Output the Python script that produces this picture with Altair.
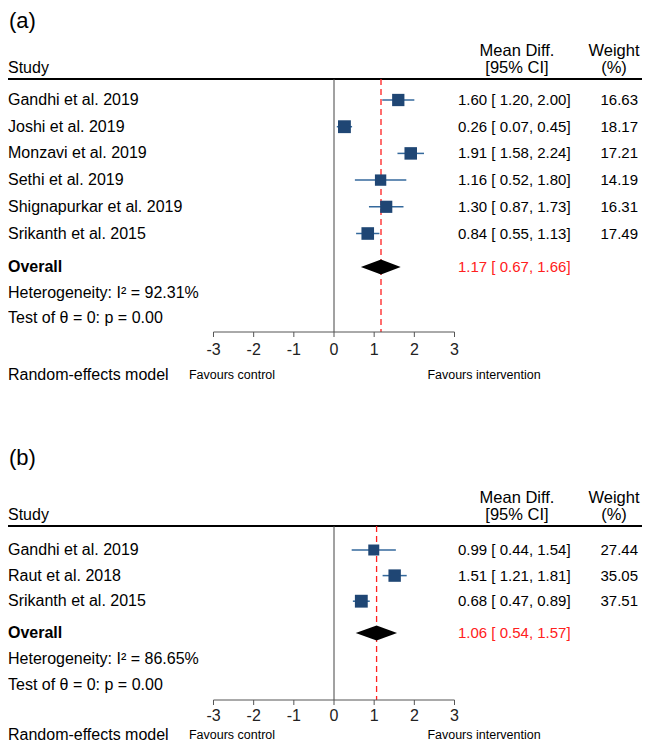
import altair as alt
import pandas as pd

# ---------------- data ----------------
a_studies = ["Gandhi et al. 2019", "Joshi et al. 2019", "Monzavi et al. 2019",
             "Sethi et al. 2019", "Shignapurkar et al. 2019", "Srikanth et al. 2015"]
a_est = [1.60, 0.26, 1.91, 1.16, 1.30, 0.84]
a_lo = [1.20, 0.07, 1.58, 0.52, 0.87, 0.55]
a_hi = [2.00, 0.45, 2.24, 1.80, 1.73, 1.13]
a_weight = [16.63, 18.17, 17.21, 14.19, 16.31, 17.49]
a_overall = [1.17, 0.67, 1.66]
a_i2 = "92.31%"
a_p = "0.00"

b_studies = ["Gandhi et al. 2019", "Raut et al. 2018", "Srikanth et al. 2015"]
b_est = [0.99, 1.51, 0.68]
b_lo = [0.44, 1.21, 0.47]
b_hi = [1.54, 1.81, 0.89]
b_weight = [27.44, 35.05, 37.51]
b_overall = [1.06, 0.54, 1.57]
b_i2 = "86.65%"
b_p = "0.00"

tick_values = [-3, -2, -1, 0, 1, 2, 3]

# ---------------- layout / style ----------------
W = 634
X_DOMAIN = [-326 / 40.17, (W - 326) / 40.17]
FONT = "Liberation Sans"
SQ_COLOR = "#1f4674"
CI_COLOR = "#34699c"
RED = "#ff2020"


def txt(df, x, align="left", size=16, color="black", weight="normal", yscale=None, baseline="middle",
        clip=True):
    return alt.Chart(df).mark_text(
        align=align, baseline=baseline, fontSize=size, font=FONT, color=color,
        fontWeight=weight, clip=clip
    ).encode(
        x=alt.value(x),
        y=alt.Y("y:Q", scale=yscale, axis=None),
        text="t:N",
    )


def panel(label, studies, est, lo, hi, weight, overall, i2, p, step, first_y, top, height, offs):
    r = {k: v / step for k, v in offs.items()}
    ymin = -(first_y - top) / step
    yscale = alt.Scale(domain=[ymin, ymin + height / step], reverse=True, nice=False, zero=False)
    xscale = alt.Scale(domain=X_DOMAIN, nice=False, zero=False)
    n = len(studies)

    df = pd.DataFrame({
        "y": list(range(n)),
        "study": studies,
        "est": est, "lo": lo, "hi": hi, "w": weight,
        "ci": [f"{e:.2f} [ {l:.2f}, {h:.2f}]" for e, l, h in zip(est, lo, hi)],
        "wt": [f"{w:.2f}" for w in weight],
    })

    layers = []
    # header line
    layers.append(alt.Chart(pd.DataFrame({"y": [r["hline"]]})).mark_rule(
        color="black", strokeWidth=2, clip=True).encode(
        x=alt.value(0), x2=alt.value(W), y=alt.Y("y:Q", scale=yscale, axis=None)))
    # vertical null line
    layers.append(alt.Chart(pd.DataFrame({"x": [0], "y": [r["hline"]], "y2": [r["axis"]]})).mark_rule(
        color="#444444", strokeWidth=1).encode(
        x=alt.X("x:Q", scale=xscale, axis=None), y=alt.Y("y:Q", scale=yscale, axis=None), y2="y2:Q"))
    # overall dashed line
    layers.append(alt.Chart(pd.DataFrame({"x": [overall[0]], "y": [r["hline"]], "y2": [r["axis"]]})).mark_rule(
        color=RED, strokeWidth=1.3, strokeDash=[6, 4]).encode(
        x=alt.X("x:Q", scale=xscale, axis=None), y=alt.Y("y:Q", scale=yscale, axis=None), y2="y2:Q"))
    # axis line
    layers.append(alt.Chart(pd.DataFrame({"x": [tick_values[0]], "x2": [tick_values[-1]], "y": [r["axis"]]})).mark_rule(
        color="#555555", strokeWidth=1).encode(
        x=alt.X("x:Q", scale=xscale, axis=None), x2="x2:Q", y=alt.Y("y:Q", scale=yscale, axis=None)))
    # ticks
    tdf = pd.DataFrame({"x": tick_values, "y": [r["axis"]] * 7, "y2": [r["axis"] + 5 / step] * 7,
                        "ty": [r["ticklab"]] * 7, "t": [str(v) for v in tick_values]})
    layers.append(alt.Chart(tdf).mark_rule(color="#555555", strokeWidth=1).encode(
        x=alt.X("x:Q", scale=xscale, axis=None), y=alt.Y("y:Q", scale=yscale, axis=None), y2="y2:Q"))
    layers.append(alt.Chart(tdf).mark_text(fontSize=16, font=FONT, baseline="middle", color="#222222").encode(
        x=alt.X("x:Q", scale=xscale, axis=None), y=alt.Y("ty:Q", scale=yscale, axis=None), text="t:N"))
    # CI lines
    layers.append(alt.Chart(df).mark_rule(color=CI_COLOR, strokeWidth=1.5).encode(
        x=alt.X("lo:Q", scale=xscale, axis=None), x2="hi:Q", y=alt.Y("y:Q", scale=yscale, axis=None)))
    # squares
    layers.append(alt.Chart(df).mark_square(color=SQ_COLOR, opacity=1).encode(
        x=alt.X("est:Q", scale=xscale, axis=None), y=alt.Y("y:Q", scale=yscale, axis=None),
        size=alt.Size("w:Q", scale=alt.Scale(domain=[0, max(weight)], range=[0, 165]), legend=None)))
    # diamond
    oy = r["overall"]
    h = 7.5 / step
    ddf = pd.DataFrame({"x": [overall[1], overall[0], overall[2]],
                        "y": [oy, oy - h, oy], "y2": [oy, oy + h, oy]})
    layers.append(alt.Chart(ddf).mark_area(color="black", orient="vertical").encode(
        x=alt.X("x:Q", scale=xscale, axis=None), y=alt.Y("y:Q", scale=yscale, axis=None), y2="y2:Q"))

    # texts
    layers.append(txt(pd.DataFrame({"y": [r["label"]], "t": [label]}), 1, size=22, yscale=yscale,
                      baseline="top", clip=False))
    layers.append(txt(pd.DataFrame({"y": [r["study"]], "t": ["Study"]}), 0, yscale=yscale))
    layers.append(txt(pd.DataFrame({"y": [r["md"], r["study"]], "t": ["Mean Diff.", "[95% CI]"]}), 509,
                      align="center", size=16.5, yscale=yscale))
    layers.append(txt(pd.DataFrame({"y": [r["md"], r["study"]], "t": ["Weight", "(%)"]}), 606,
                      align="center", size=16.5, yscale=yscale))
    layers.append(txt(df.assign(t=df["study"]), 0, yscale=yscale))
    layers.append(txt(df.assign(t=df["ci"]), 450, size=15, yscale=yscale))
    layers.append(txt(df.assign(t=df["wt"]), 630, align="right", size=15, yscale=yscale))
    layers.append(txt(pd.DataFrame({"y": [oy], "t": ["Overall"]}), 0, weight="bold", yscale=yscale))
    layers.append(txt(pd.DataFrame({"y": [oy], "t": [f"{overall[0]:.2f} [ {overall[1]:.2f}, {overall[2]:.2f}]"]}),
                      450, size=15, color=RED, yscale=yscale))
    layers.append(txt(pd.DataFrame({"y": [r["het"], r["test"]],
                                    "t": [f"Heterogeneity: I\u00b2 = {i2}", f"Test of \u03b8 = 0: p = {p}"]}),
                      0, yscale=yscale))
    layers.append(txt(pd.DataFrame({"y": [r["bottom"]], "t": ["Random-effects model"]}), 0, yscale=yscale))
    layers.append(txt(pd.DataFrame({"y": [r["bottom"]], "t": ["Favours control"]}), 224, align="center",
                      size=12.5, yscale=yscale))
    layers.append(txt(pd.DataFrame({"y": [r["bottom"]], "t": ["Favours intervention"]}), 476, align="center",
                      size=12.5, yscale=yscale))

    return alt.layer(*layers).properties(width=W, height=height)


offs_a = {"label": -89, "md": -49, "study": -32, "hline": -21, "overall": 167, "het": 193,
          "test": 218, "axis": 232, "ticklab": 250, "bottom": 275}
offs_b = {"label": -102, "md": -52, "study": -35, "hline": -24, "overall": 83, "het": 109,
          "test": 135, "axis": 150, "ticklab": 166, "bottom": 185}

pa = panel("(a)", a_studies, a_est, a_lo, a_hi, a_weight, a_overall, a_i2, a_p,
           step=26.7, first_y=100, top=8, height=425, offs=offs_a)
pb = panel("(b)", b_studies, b_est, b_lo, b_hi, b_weight, b_overall, b_i2, b_p,
           step=25.6, first_y=550, top=433, height=309, offs=offs_b)

chart = alt.vconcat(pa, pb, spacing=0).resolve_scale(
    x="independent", y="independent", size="independent"
).properties(padding=0).configure(background="white").configure_view(stroke=None)

chart.save("out.html", embed_options={"renderer": "svg", "actions": False})
